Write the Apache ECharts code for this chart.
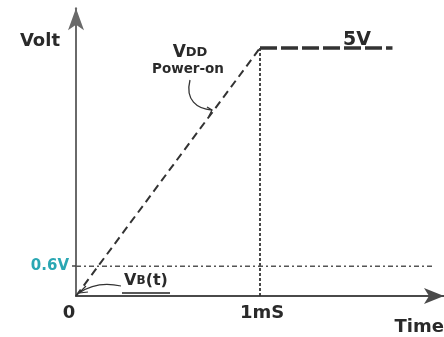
<!DOCTYPE html>
<html>
<head>
<meta charset="utf-8">
<script src="https://cdn.jsdelivr.net/npm/echarts@6/dist/echarts.min.js"></script>
<style>
  html, body { margin: 0; padding: 0; background: #fff; }
  #c { width: 444px; height: 337px; }
</style>
</head>
<body>
<div id="c"></div>
<script>
// VDD power-on ramp: time (ms) -> volts
const rampTime = [0, 1];
const rampVolt = [0, 5];
// settled supply level after the ramp
const flatTime = [1, 1.72];
const flatVolt = [5, 5];
// 1 ms marker
const markerTime = [1, 1];
const markerVolt = [0, 5];
// 0.6 V threshold
const thresholdTime = [0, 1.95];
const thresholdVolt = [0.6, 0.6];
// tick labels
const xTicks = [0, 1];
const xTickLabels = ['0', '1mS'];
const yTicks = [0.6];
const yTickLabels = ['0.6V'];

const FONT = 'DejaVu Sans';
const INK = '#2a2a2a';

const pairs = (xs, ys) => xs.map((x, i) => [x, ys[i]]);

const option = {
  animation: false,
  backgroundColor: '#fff',
  grid: { left: 76, right: 0, top: 8.3, bottom: 41, outerBoundsMode: 'none', containLabel: false },
  xAxis: {
    type: 'value', min: 0, max: 2,
    name: 'Time', nameLocation: 'end', nameGap: 0,
    nameTextStyle: {
      fontFamily: FONT, fontWeight: 'bold', fontSize: 18, color: INK,
      align: 'right', verticalAlign: 'top', padding: [22, 0, 0, 0]
    },
    axisLine: {
      lineStyle: { color: '#4a4a4a', width: 2 },
      symbol: ['none', 'arrow'], symbolSize: [12, 20]
    },
    axisTick: { show: false },
    splitLine: { show: false },
    axisLabel: {
      customValues: xTicks,
      margin: 8,
      formatter: v => {
        const t = xTickLabels[xTicks.indexOf(v)];
        return v === 0 ? '{z|' + t + '}' : '{a|' + t + '}';
      },
      rich: {
        z: { fontFamily: FONT, fontWeight: 'bold', fontSize: 18, color: INK, padding: [0, 14, 0, 0] },
        a: { fontFamily: FONT, fontWeight: 'bold', fontSize: 18, color: INK, padding: [0, 0, 0, 4] }
      }
    }
  },
  yAxis: {
    type: 'value', min: 0, max: 5.8,
    name: 'Volt', nameLocation: 'end', nameGap: -32.7,
    nameTextStyle: {
      fontFamily: FONT, fontWeight: 'bold', fontSize: 18, color: INK,
      align: 'right', verticalAlign: 'middle', padding: [0, 16, 0, 0]
    },
    axisLine: {
      lineStyle: { color: '#6a6a6a', width: 2 },
      symbol: ['none', 'arrow'], symbolSize: [12, 22]
    },
    axisTick: { show: true, customValues: yTicks, length: 4, lineStyle: { color: '#444', width: 1.5 } },
    splitLine: { show: false },
    axisLabel: {
      customValues: yTicks,
      margin: 7,
      formatter: v => yTickLabels[yTicks.indexOf(v)],
      fontFamily: FONT, fontWeight: 'bold', fontSize: 15, color: '#2aa7b3'
    }
  },
  series: [
    {
      name: 'VDD ramp', type: 'line', data: pairs(rampTime, rampVolt),
      showSymbol: false, silent: true,
      lineStyle: { color: '#333', width: 2, type: [8, 5] }
    },
    {
      name: 'VDD settled', type: 'line', data: pairs(flatTime, flatVolt),
      showSymbol: false, silent: true,
      lineStyle: { color: '#333', width: 3.5, type: [17, 4] }
    },
    {
      name: '1 ms', type: 'line', data: pairs(markerTime, markerVolt),
      showSymbol: false, silent: true,
      lineStyle: { color: '#333', width: 1.8, type: [3, 2] }
    },
    {
      name: '0.6 V', type: 'line', data: pairs(thresholdTime, thresholdVolt),
      showSymbol: false, silent: true,
      lineStyle: { color: '#555', width: 1.6, type: [5, 3, 2, 3] }
    }
  ]
};

const chart = echarts.init(document.getElementById('c'), null, { renderer: 'canvas' });
chart.setOption(option);

// callouts, anchored to the plotted curves
const px = p => chart.convertToPixel({ gridIndex: 0 }, p);
const f = 0.75;
const rampHit = px([rampTime[0] + (rampTime[1] - rampTime[0]) * f,
                    rampVolt[0] + (rampVolt[1] - rampVolt[0]) * f]);
const origin = px([rampTime[0], rampVolt[0]]);
const top5 = px([flatTime[0], flatVolt[0]]);

const lineCol = '#333';
chart.setOption({
  graphic: [
    {
      type: 'text', x: 190, y: 53,
      style: {
        text: '{v|V}{d|DD}', align: 'center', verticalAlign: 'middle',
        rich: {
          v: { fontFamily: FONT, fontWeight: 'bold', fontSize: 17, fill: INK },
          d: { fontFamily: FONT, fontWeight: 'bold', fontSize: 13, fill: INK }
        }
      }
    },
    {
      type: 'text', x: 188, y: 69,
      style: {
        text: 'Power-on', align: 'center', verticalAlign: 'middle',
        fontFamily: FONT, fontWeight: 'bold', fontSize: 13.5, fill: INK
      }
    },
    {
      type: 'bezierCurve',
      shape: {
        x1: 190, y1: 80, cpx1: 185, cpy1: 100, cpx2: 197, cpy2: 109,
        x2: rampHit[0] - 2, y2: rampHit[1]
      },
      style: { stroke: lineCol, lineWidth: 1.3, fill: 'none' }
    },
    {
      type: 'polyline',
      shape: { points: [[rampHit[0] - 7, rampHit[1] - 3], [rampHit[0] - 2, rampHit[1]], [rampHit[0] - 5, rampHit[1] + 6]] },
      style: { stroke: lineCol, lineWidth: 1.3, fill: 'none' }
    },
    {
      type: 'text', x: 357, y: top5[1] - 8,
      style: {
        text: '5V', align: 'center', verticalAlign: 'middle',
        fontFamily: FONT, fontWeight: 'bold', fontSize: 19, fill: INK
      }
    },
    {
      type: 'text', x: 146, y: 281,
      style: {
        text: '{v|V}{b|B}{v|(t)}', align: 'center', verticalAlign: 'middle',
        rich: {
          v: { fontFamily: FONT, fontWeight: 'bold', fontSize: 16, fill: INK },
          b: { fontFamily: FONT, fontWeight: 'bold', fontSize: 12, fill: INK }
        }
      }
    },
    {
      type: 'line',
      shape: { x1: 122, y1: origin[1] - 3, x2: 170, y2: origin[1] - 3 },
      style: { stroke: '#222', lineWidth: 1.5 }
    },
    {
      type: 'bezierCurve',
      shape: {
        x1: origin[0] + 3, y1: origin[1] - 3, cpx1: origin[0] + 16, cpy1: origin[1] - 12,
        cpx2: origin[0] + 32, cpy2: origin[1] - 13, x2: 121, y2: origin[1] - 10
      },
      style: { stroke: lineCol, lineWidth: 1.2, fill: 'none' }
    },
    {
      type: 'polyline',
      shape: { points: [[origin[0] + 10, origin[1] - 10], [origin[0] + 3, origin[1] - 3], [origin[0] + 12, origin[1] - 4]] },
      style: { stroke: lineCol, lineWidth: 1.2, fill: 'none' }
    }
  ]
});
</script>
</body>
</html>
